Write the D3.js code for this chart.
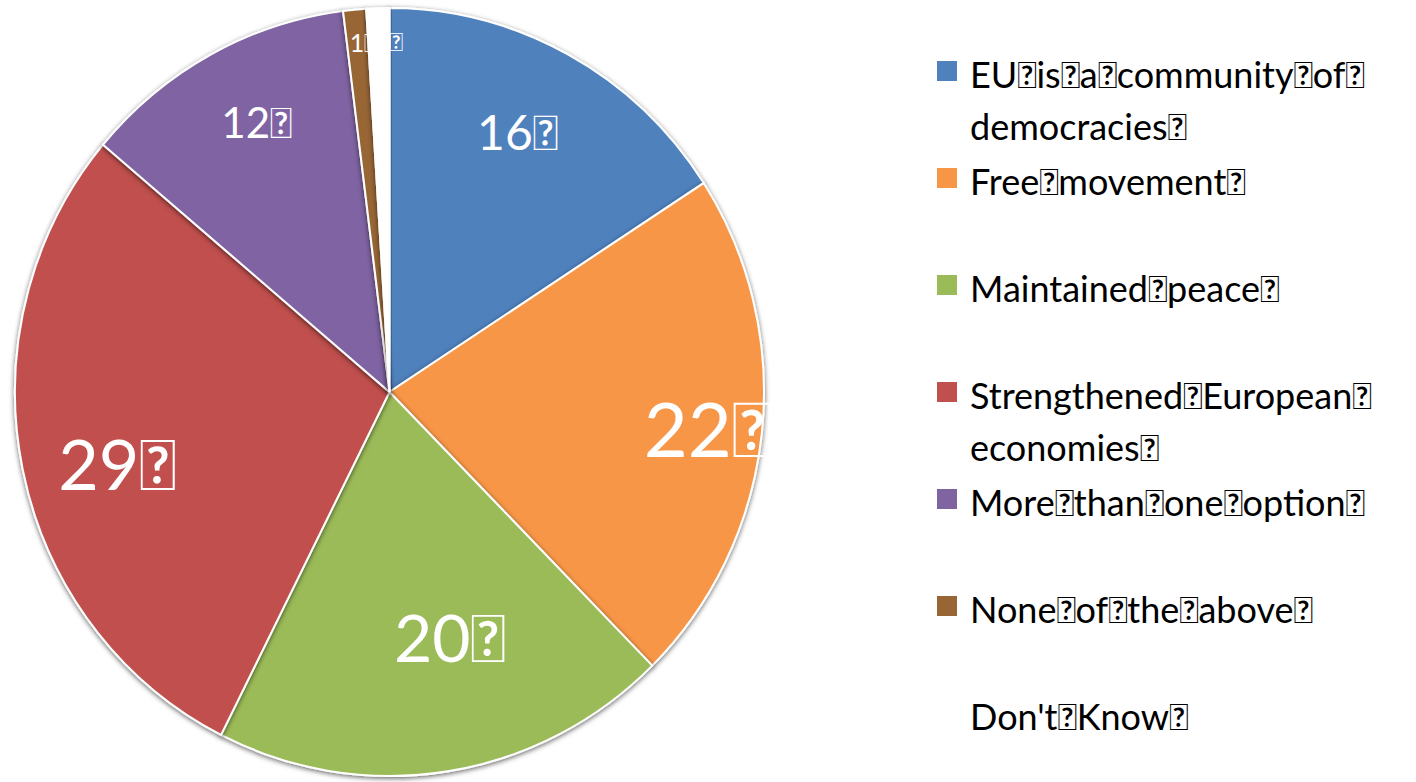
<!DOCTYPE html>
<html>
<head>
<meta charset="utf-8">
<script src="https://cdn.jsdelivr.net/npm/d3@7"></script>
<style>
  html, body { margin: 0; padding: 0; background: #fff; }
  svg { display: block; }
</style>
</head>
<body>
<svg id="chart" width="1416" height="782"></svg>
<script>
// ---- data ----
const TOFU = "\uF020";
const categories = ["EU is a community of democracies", "Free movement", "Maintained peace",
  "Strengthened European economies", "More than one option", "None of the above", "Don't Know"];
const values = [16, 22, 20, 29, 12, 1, 1];
const valueLabels = ["16\uF025", "22\uF025", "20\uF025", "29\uF025", "12\uF025", "1\uF025", "1\uF025"];

// ---- styles ----
const colors = ["#4F81BD", "#F79646", "#9BBB59", "#C0504D", "#8064A2", "#986634", "#FFFFFF"];
const labelRadius = [0.756, 0.856, 0.661, 0.751, 0.785, 0.912, 0.912];
const labelAngleShift = [-1.6, 0.4, -5.2, -3.1, 1.7, 1.0, 1.7];
const labelSize = [48, 76, 66, 70, 42, 25, 25];

const svg = d3.select("#chart");
const cx = 389.5, cy = 392, rx = 374.5, ry = 384;
const ys = ry / rx;

const defs = svg.append("defs");
const f = defs.append("filter").attr("id", "shadow").attr("x", "-10%").attr("y", "-10%").attr("width", "120%").attr("height", "120%");
f.append("feDropShadow").attr("dx", 0).attr("dy", 1.5).attr("stdDeviation", 2.6)
  .attr("flood-color", "#000").attr("flood-opacity", 0.6);

const pie = d3.pie().sort(null).value(d => d)(values);
const arc = d3.arc().innerRadius(0).outerRadius(rx);

const g = svg.append("g").attr("transform", `translate(${cx},${cy}) scale(1,${ys})`);
g.selectAll("path").data(pie).join("path")
  .attr("d", arc)
  .attr("fill", (d, i) => colors[i])
  .attr("stroke", "#fff")
  .attr("stroke-width", 2)
  .attr("filter", "url(#shadow)");

const lg = svg.append("g").attr("transform", `translate(${cx},${cy})`);
pie.forEach((d, i) => {
  const r = rx * labelRadius[i];
  const shift = labelAngleShift[i] * Math.PI / 180;
  const la = d3.arc().innerRadius(r).outerRadius(r);
  const [x, y] = la.centroid({ startAngle: d.startAngle + shift, endAngle: d.endAngle + shift });
  lg.append("text")
    .attr("x", x).attr("y", y * ys)
    .attr("dy", "0.36em")
    .attr("text-anchor", "middle")
    .attr("font-family", "Lato")
    .attr("font-size", labelSize[i])
    .attr("fill", "#fff")
    .text(valueLabels[i]);
});

// ---- legend ----
const legend = svg.append("g");
const lx = 937, tx = 970, y0 = 88, step = 107, lineH = 52, maxW = 442;
categories.forEach((c, i) => {
  const by = y0 + i * step;
  legend.append("rect").attr("x", lx).attr("y", by - 27).attr("width", 20).attr("height", 20)
    .attr("fill", colors[i]);
  const t = legend.append("text").attr("x", tx).attr("y", by)
    .attr("font-family", "Lato").attr("font-size", 36).attr("fill", "#000");
  const words = c.split(" ");
  let line = [], ln = 0;
  let ts = t.append("tspan").attr("x", tx).attr("y", by);
  words.forEach((w) => {
    line.push(w);
    ts.text(line.join(TOFU) + TOFU);
    if (ts.node().getComputedTextLength() > maxW && line.length > 1) {
      line.pop();
      ts.text(line.join(TOFU) + TOFU);
      line = [w];
      ln++;
      ts = t.append("tspan").attr("x", tx).attr("y", by + ln * lineH).text(w + TOFU);
    }
  });
});
</script>
</body>
</html>
